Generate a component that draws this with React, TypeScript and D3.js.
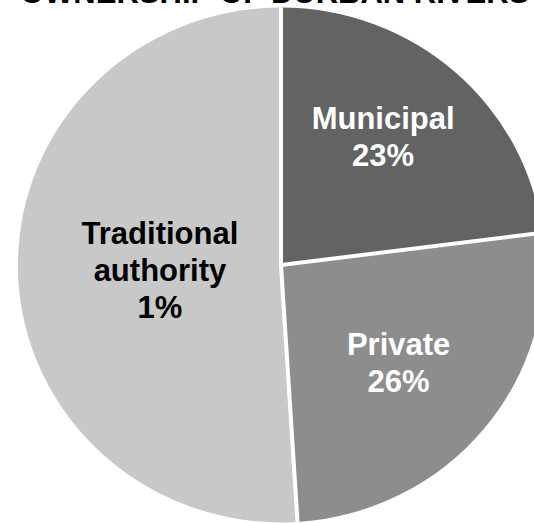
import React from "react";
import * as d3 from "d3";

const title = "OWNERSHIP OF DURBAN RIVERS";
const categories = ["Municipal", "Private", "Traditional authority", "Other"];
const values = [23, 26, 1, 50];
const labelLines = [["Municipal", "23%"], ["Private", "26%"], ["Traditional", "authority", "1%"], []];

const W = 534;
const H = 523;
const cx = 281;
const cy = 265;
const R = 260;
const colors = ["#636363", "#8d8d8d", "#c8c8c8", "#c8c8c8"];
const textColors = ["#ffffff", "#ffffff", "#000000", "#000000"];
const labelRadius = [0.632, 0.587, 0.466, 0.466];
const labelAngleFrac = [0.464, 0.5, 0.497, 0.5];
const FONT = "'Liberation Sans', Arial, Helvetica, sans-serif";

export default function App() {
  const pie = d3.pie<number>().sort(null).value((d) => d);
  const arcs = pie(values);
  const arcGen = d3.arc<d3.PieArcDatum<number>>().innerRadius(0).outerRadius(R);

  // Traditional authority label sits in the combined light area (slices 2 & 3)
  const combined = {
    startAngle: arcs[2].startAngle,
    endAngle: arcs[3].endAngle,
  };

  const labelPos = (i: number) => {
    const a = i >= 2 ? combined : arcs[i];
    const ang = a.startAngle + (a.endAngle - a.startAngle) * labelAngleFrac[i];
    const r = R * labelRadius[i];
    return [Math.sin(ang) * r, -Math.cos(ang) * r];
  };

  const lineH = 37;
  const fs = 31;

  return (
    <svg width={W} height={H} style={{ display: "block", position: "absolute", left: 0, top: 0 }}>
      <rect width={W} height={H} fill="#ffffff" />
      <text x={20} y={3} fontFamily={FONT} fontWeight="bold" fontSize={31} fill="#000">
        {title}
      </text>
      <g transform={`translate(${cx},${cy}) scale(1.012,0.99)`}>
        {arcs.map((a, i) => (
          <path key={categories[i]} d={arcGen(a) || ""} fill={colors[i]} stroke="none" />
        ))}
        {arcs.slice(0, 2).map((a, i) => {
          const ang = a.endAngle;
          return (
            <line
              key={"sep" + i}
              x1={0}
              y1={0}
              x2={Math.sin(ang) * R}
              y2={-Math.cos(ang) * R}
              stroke="#ffffff"
              strokeWidth={4}
            />
          );
        })}
        <line x1={0} y1={0} x2={0} y2={-R} stroke="#ffffff" strokeWidth={4} />
      </g>
      {labelLines.map((lines, i) => {
        if (!lines.length) return null;
        const [lx, ly] = labelPos(i);
        const top = cy + ly - ((lines.length - 1) * lineH) / 2 + fs * 0.36;
        return (
          <text
            key={"lbl" + i}
            textAnchor="middle"
            fontFamily={FONT}
            fontWeight="bold"
            fontSize={fs}
            fill={textColors[i]}
          >
            {lines.map((t, j) => (
              <tspan key={j} x={cx + lx} y={top + j * lineH}>
                {t}
              </tspan>
            ))}
          </text>
        );
      })}
    </svg>
  );
}
